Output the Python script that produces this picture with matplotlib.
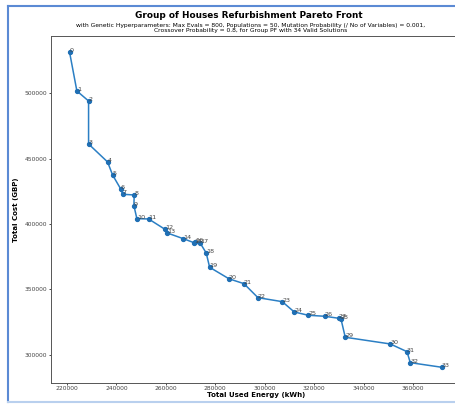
import matplotlib.pyplot as plt
from matplotlib.lines import Line2D

# Pareto front solutions (energy in kWh, cost in GBP)
energy = [221100, 224050, 228780, 228780, 236470, 238490, 241850, 242540,
          247230, 247110, 248320, 253060, 259650, 260580, 267060, 271380,
          271790, 273810, 276360, 277740, 285550, 291610, 297280, 307110,
          311970, 317630, 324270, 329930, 330860, 332600, 350810, 357570,
          358900, 371600]
cost = [531400, 501760, 494110, 461210, 447440, 437490, 426550, 422720,
        422190, 414000, 404060, 403830, 395950, 393120, 388760, 385700,
        386240, 385700, 377810, 366870, 358070, 354330, 343620, 340560,
        332670, 330140, 329380, 327850, 327320, 313310, 308190, 302300,
        293880, 290360]
labels = [str(i) for i in range(len(energy))]

fig = plt.figure(figsize=(4.56, 4.05), dpi=100)
ax = fig.add_axes([0.1118, 0.0543, 0.8976, 0.8556])

ax.plot(energy, cost, color='#2b7fc4', linewidth=1.1, marker='o',
        markersize=2.8, markerfacecolor='#1f6fb4', markeredgecolor='#1f6fb4')
for lab, x, y in zip(labels, energy, cost):
    ax.annotate(lab, (x, y), fontsize=4.6, color='#444444')

ax.set_xticks([220000, 240000, 260000, 280000, 300000, 320000, 340000, 360000])
ax.set_yticks([300000, 350000, 400000, 450000, 500000])
ax.tick_params(labelsize=4.3, labelcolor='#444444', length=1.5, width=0.5, pad=1)
for s in ax.spines.values():
    s.set_linewidth(0.7)
    s.set_color('#555555')

ax.set_xlabel('Total Used Energy (kWh)', fontsize=5, fontweight='bold', labelpad=0.5)
ax.set_ylabel('Total Cost (GBP)', fontsize=5, fontweight='bold', labelpad=4)

fig.text(0.546, 0.962, 'Group of Houses Refurbishment Pareto Front',
         ha='center', va='center', fontsize=6.4, fontweight='bold')
fig.text(0.549, 0.93,
         'with Genetic Hyperparameters: Max Evals = 800, Populations = 50, '
         'Mutation Probability (/ No of Variables) = 0.001,\n'
         'Crossover Probability = 0.8, for Group PF with 34 Valid Solutions',
         ha='center', va='center', fontsize=4.3, linespacing=1.0)

# frame along left, top and bottom edges
x0, y0, y1 = 8 / 456, 1 - 402 / 405, 1 - 6 / 405
fig.add_artist(Line2D([x0, x0], [y0, y1], color='#5b8ad4', linewidth=1.5))
fig.add_artist(Line2D([x0, 1], [y1, y1], color='#5b8ad4', linewidth=1.5))
fig.add_artist(Line2D([x0, 1], [y0, y0], color='#b9d0ee', linewidth=1.5))

fig.savefig('out.png', dpi=100)
